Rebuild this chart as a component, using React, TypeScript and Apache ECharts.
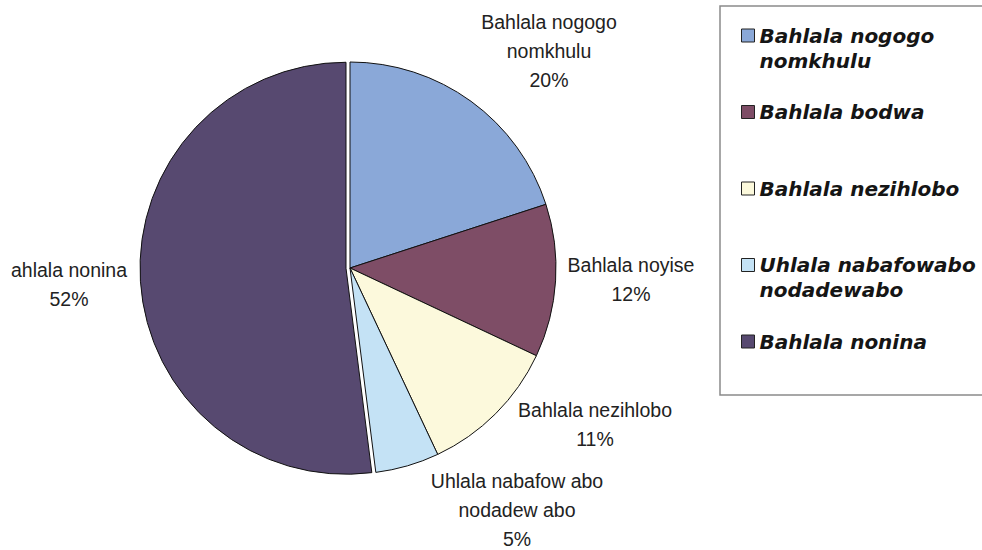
import React, { useEffect, useRef } from "react";
import * as echarts from "echarts";

const categories = [
  "Bahlala nogogo nomkhulu",
  "Bahlala bodwa",
  "Bahlala nezihlobo",
  "Uhlala nabafowabo nodadewabo",
  "Bahlala nonina",
];
const values = [20, 12, 11, 5, 52];
const sliceLabels = [
  "Bahlala nogogo\nnomkhulu",
  "Bahlala noyise",
  "Bahlala nezihlobo",
  "Uhlala nabafow abo\nnodadew abo",
  "ahlala nonina",
];
const legendLines = [
  "Bahlala nogogo\nnomkhulu",
  "Bahlala bodwa",
  "Bahlala nezihlobo",
  "Uhlala nabafowabo\nnodadewabo",
  "Bahlala nonina",
];
const colors = ["#8aa8d8", "#7e4d66", "#fcf9dc", "#c4e2f5", "#574970"];
const labelCenters: number[][] = [
  [549, 51],
  [631, 279],
  [595, 424],
  [517, 510],
  [69, 284],
];

export default function App() {
  const ref = useRef<HTMLDivElement>(null);
  useEffect(() => {
    document.body.style.margin = "0";
    const chart = echarts.init(ref.current!, null, { renderer: "svg" });
    chart.setOption({
      animation: false,
      backgroundColor: "#ffffff",
      graphic: [
        {
          type: "rect",
          z: -1,
          shape: { x: 720, y: 6, width: 300, height: 389 },
          style: { fill: "#ffffff", stroke: "#8a8a8a", lineWidth: 1.5 },
        },
      ],
      legend: {
        orient: "vertical",
        left: 741,
        top: -2,
        padding: 0,
        itemGap: 1.5,
        itemWidth: 13,
        itemHeight: 13,
        icon: "rect",
        selectedMode: false,
        data: categories,
        itemStyle: { borderColor: "#222", borderWidth: 1 },
        formatter: (name: string) => {
          const i = categories.indexOf(name);
          const t = legendLines[i];
          return t.indexOf("\n") >= 0 ? "\n" + t : "\n" + t + "\n";
        },
        textStyle: {
          fontFamily: "DejaVu Sans",
          fontWeight: "bold",
          fontStyle: "italic",
          fontSize: 20,
          lineHeight: 25,
          color: "#151515",
        },
      },
      series: [
        {
          type: "pie",
          center: [350, 268],
          radius: 206,
          startAngle: 90,
          clockwise: true,
          selectedMode: "single",
          selectedOffset: 4,
          itemStyle: { borderColor: "#111", borderWidth: 1 },
          select: { itemStyle: { borderColor: "#111", borderWidth: 1 } },
          emphasis: { disabled: true },
          label: { show: false },
          labelLine: { show: false },
          data: categories.map((name, i) => ({
            name,
            value: values[i],
            selected: i === 4,
            itemStyle: { color: colors[i] },
          })),
        },
        {
          type: "pie",
          center: [350, 268],
          radius: 206,
          startAngle: 90,
          clockwise: true,
          silent: true,
          avoidLabelOverlap: false,
          itemStyle: { color: "transparent", borderWidth: 0 },
          emphasis: { disabled: true },
          labelLine: { show: false },
          label: {
            show: true,
            position: "outside",
            fontFamily: "Liberation Sans, Arial, sans-serif",
            fontSize: 19.5,
            lineHeight: 29,
            color: "#222",
            formatter: (p: any) =>
              sliceLabels[p.dataIndex] + "\n" + Math.round(p.percent) + "%",
          },
          labelLayout: (p: any) => ({
            x: labelCenters[p.dataIndex][0],
            y: labelCenters[p.dataIndex][1],
            align: "center",
            verticalAlign: "middle",
          }),
          data: categories.map((name, i) => ({ name, value: values[i] })),
        },
      ],
    });
    return () => chart.dispose();
  }, []);
  return <div ref={ref} style={{ width: 982, height: 550 }} />;
}
